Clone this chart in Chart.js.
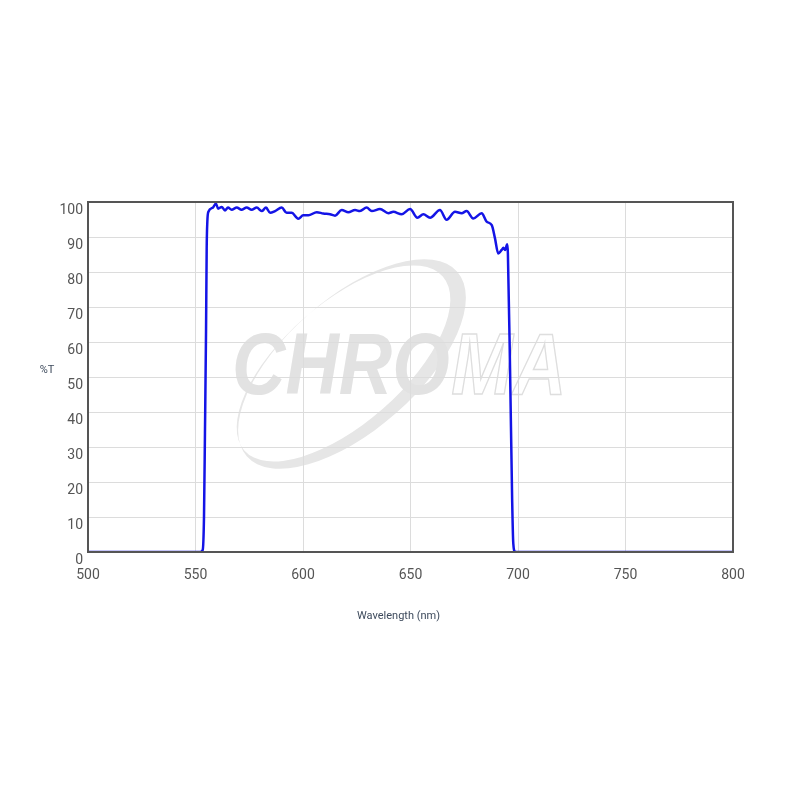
<!DOCTYPE html>
<html>
<head>
<meta charset="utf-8">
<script src="https://cdn.jsdelivr.net/npm/chart.js@4"></script>
<style>
  body { margin:0; background:#fff; }
  #wrap { width:800px; height:800px; }
</style>
</head>
<body>
<div id="wrap"><canvas id="filter__graph" width="800" height="800"></canvas></div>
<script>
// transmission curve
const wavelength = [500, 552.1, 553.35, 553.95, 554.4, 554.9, 555.2, 555.5, 556.0, 558.1, 559.5, 560.5, 562.2, 563.7, 565.1, 566.8, 569.2, 571.4, 573.8, 576.1, 578.5, 580.8, 582.8, 584.7, 587.0, 590.1, 592.4, 594.7, 597.8, 600.1, 602.5, 606.4, 609.4, 612.6, 614.9, 618.0, 621.1, 624.2, 626.5, 629.6, 632.0, 635.8, 639.7, 642.0, 645.9, 649.8, 653.2, 656.0, 659.1, 663.7, 666.8, 670.7, 673.8, 676.1, 679.2, 683.1, 685.4, 687.8, 689.3, 690.8, 692.4, 693.2, 694.0, 695.0, 695.3, 696.3, 697.3, 697.8, 698.6, 700.1, 800];
const transmission = [0, 0, 0.6, 10, 34, 63, 86.6, 94.3, 97.2, 98.4, 99.6, 98.1, 98.6, 97.6, 98.4, 97.8, 98.4, 97.8, 98.4, 97.8, 98.4, 97.4, 98.4, 96.9, 97.4, 98.4, 96.9, 96.9, 95.2, 96.2, 96.2, 97.1, 96.7, 96.5, 96.1, 97.7, 97.1, 97.7, 97.4, 98.4, 97.4, 98.0, 96.8, 97.2, 96.5, 98.0, 95.5, 96.5, 95.5, 97.7, 94.9, 97.2, 96.8, 97.4, 95.3, 96.8, 94.4, 93.4, 89.6, 85.3, 86.3, 86.9, 86.3, 87.9, 85.3, 52.4, 14.3, 2.5, 0.1, 0, 0];

const xTicks = [500, 550, 600, 650, 700, 750, 800];
const yTicks = [0, 10, 20, 30, 40, 50, 60, 70, 80, 90, 100];

const points = wavelength.map((w, i) => ({x: w, y: transmission[i]}));

// watermark + frame + axis titles
const decor = {
  id: 'decor',
  beforeDraw(chart) {
    const ctx = chart.ctx;
    ctx.save();
    // ring
    ctx.translate(352, 364);
    ctx.rotate(-0.72);
    ctx.beginPath();
    ctx.ellipse(0, 0, 140, 66, 0, 0, Math.PI * 2);
    ctx.ellipse(-6, -6, 132, 60, 0, 0, Math.PI * 2);
    ctx.fillStyle = '#e6e6e6';
    ctx.fill('evenodd');
    ctx.restore();
    ctx.save();
    ctx.translate(232, 394);
    ctx.scale(0.84, 1);
    ctx.font = 'italic bold 88px "Liberation Sans", Arial, sans-serif';
    ctx.textBaseline = 'alphabetic';
    ctx.fillStyle = '#e2e2e2';
    ctx.fillText('CHRO', 0, 0);
    const w = ctx.measureText('CHRO').width;
    ctx.strokeStyle = '#dedede';
    ctx.lineWidth = 1.5;
    ctx.strokeText('MA', w + 2, 0);
    ctx.restore();
  },
  afterDraw(chart) {
    const ctx = chart.ctx;
    const a = chart.chartArea;
    ctx.save();
    ctx.strokeStyle = '#555';
    ctx.lineWidth = 2;
    ctx.strokeRect(a.left, a.top, a.right - a.left, a.bottom - a.top);
    ctx.fillStyle = '#3d4a5c';
    ctx.font = '11px Roboto, sans-serif';
    ctx.textAlign = 'center';
    ctx.textBaseline = 'middle';
    ctx.fillText('%T', 47, 370);
    ctx.fillText('Wavelength (nm)', (a.left + a.right) / 2 - 12, 616);
    ctx.restore();
  }
};

const config = {
  type: 'line',
  data: {
    datasets: [{
      label: '%T',
      data: points,
      borderColor: '#1414e6',
      borderWidth: 2.5,
      pointRadius: 0,
      fill: false,
      cubicInterpolationMode: 'monotone'
    }]
  },
  options: {
    responsive: false,
    animation: false,
    layout: { padding: { top: 202, right: 67, left: 0, bottom: 0 } },
    plugins: { legend: { display: false }, tooltip: { enabled: false } },
    scales: {
      x: {
        type: 'linear',
        min: 500, max: 800,
        afterFit: (s) => { s.height = 248; },
        afterBuildTicks: (s) => { s.ticks = xTicks.map(v => ({value: v})); },
        grid: { color: '#dcdcdc', lineWidth: 1, drawTicks: false },
        border: { display: false },
        ticks: { color: '#555', font: { family: 'Roboto', size: 14 }, padding: 15, maxRotation: 0 }
      },
      y: {
        min: 0, max: 100,
        afterFit: (s) => { s.width = 88; },
        afterBuildTicks: (s) => { s.ticks = yTicks.map(v => ({value: v})); },
        grid: { color: '#dcdcdc', lineWidth: 1, drawTicks: false },
        border: { display: false },
        ticks: { color: '#555', font: { family: 'Roboto', size: 14 }, padding: 5, labelOffset: 8 }
      }
    }
  },
  plugins: [decor]
};

const myChart = new Chart(document.getElementById('filter__graph'), config);
</script>
</body>
</html>
